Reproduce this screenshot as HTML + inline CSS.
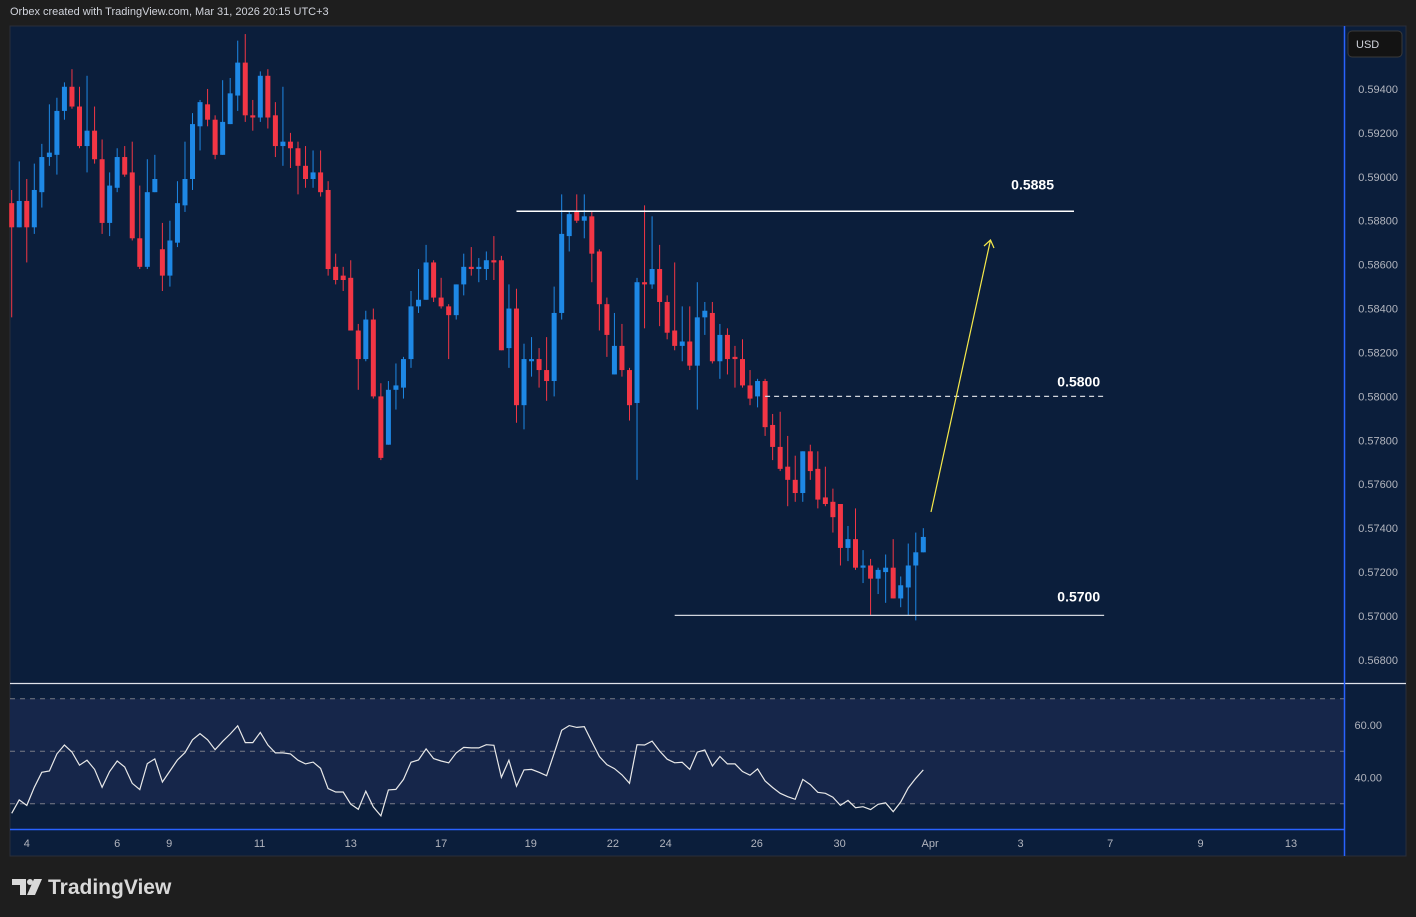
<!DOCTYPE html>
<html><head><meta charset="utf-8">
<style>
body{margin:0;width:1416px;height:917px;background:#1e1e1e;overflow:hidden;font-family:"Liberation Sans",sans-serif;}
#hdr{position:absolute;left:10px;top:6px;font-size:11px;color:#d1d4dc;}
svg{position:absolute;left:0;top:0;}
</style></head>
<body>
<div id="hdr">Orbex created with TradingView.com, Mar 31, 2026 20:15 UTC+3</div>
<svg id="chart" width="1416" height="917"></svg>
<script>
const opens=[0.5888,0.5877,0.5889,0.5877,0.5893,0.5909,0.5910,0.5930,0.5941,0.5932,0.5914,0.5921,0.5908,0.5879,0.5895,0.5909,0.5902,0.5872,0.5859,0.5893,0.5867,0.5855,0.5870,0.5887,0.5899,0.5923,0.5933,0.5926,0.5910,0.5924,0.5937,0.5952,0.5928,0.5927,0.5946,0.5928,0.5914,0.5916,0.5913,0.5905,0.5899,0.5902,0.5894,0.5859,0.5855,0.5854,0.5830,0.5817,0.5835,0.5800,0.5778,0.5803,0.5804,0.5817,0.5841,0.5844,0.5861,0.5845,0.5841,0.5837,0.5851,0.5859,0.5858,0.5858,0.5862,0.5862,0.5822,0.5840,0.5796,0.5816,0.5817,0.5812,0.5807,0.5838,0.5873,0.5884,0.5880,0.5882,0.5866,0.5842,0.5810,0.5823,0.5812,0.5797,0.5852,0.5851,0.5858,0.5843,0.5830,0.5823,0.5825,0.5814,0.5836,0.5838,0.5816,0.5828,0.5818,0.5817,0.5805,0.5800,0.5807,0.5787,0.5777,0.5768,0.5762,0.5756,0.5775,0.5767,0.5754,0.5752,0.5751,0.5731,0.5735,0.5722,0.5723,0.5717,0.5720,0.5722,0.5708,0.5713,0.5723,0.5729];
const closes=[0.5877,0.5889,0.5877,0.5894,0.5909,0.5911,0.5930,0.5941,0.5932,0.5914,0.5921,0.5908,0.5879,0.5896,0.5909,0.5901,0.5872,0.5859,0.5893,0.5899,0.5855,0.5871,0.5888,0.5899,0.5924,0.5934,0.5926,0.5910,0.5925,0.5938,0.5952,0.5928,0.5927,0.5946,0.5927,0.5914,0.5916,0.5913,0.5905,0.5899,0.5902,0.5893,0.5858,0.5853,0.5853,0.5830,0.5817,0.5835,0.5800,0.5772,0.5803,0.5805,0.5817,0.5841,0.5844,0.5861,0.5845,0.5841,0.5837,0.5851,0.5859,0.5858,0.5859,0.5862,0.5861,0.5821,0.5840,0.5796,0.5817,0.5817,0.5812,0.5807,0.5838,0.5874,0.5883,0.5880,0.5882,0.5865,0.5842,0.5828,0.5823,0.5812,0.5796,0.5852,0.5851,0.5858,0.5843,0.5829,0.5823,0.5825,0.5814,0.5836,0.5839,0.5816,0.5828,0.5817,0.5817,0.5805,0.5799,0.5807,0.5786,0.5777,0.5767,0.5762,0.5756,0.5775,0.5766,0.5753,0.5751,0.5745,0.5731,0.5735,0.5722,0.5723,0.5717,0.5721,0.5722,0.5708,0.5714,0.5723,0.5729,0.5736];
const highs=[0.5894,0.5907,0.5899,0.5906,0.5915,0.5933,0.5936,0.5943,0.5949,0.5941,0.5946,0.5932,0.5917,0.5902,0.5913,0.5914,0.5916,0.5896,0.5908,0.5910,0.5879,0.5880,0.5898,0.5916,0.5929,0.5935,0.5940,0.5928,0.5944,0.5945,0.5962,0.5965,0.5935,0.5948,0.5949,0.5934,0.5941,0.5920,0.5916,0.5914,0.5912,0.5912,0.5898,0.5865,0.5859,0.5862,0.5833,0.5839,0.5840,0.5806,0.5807,0.5815,0.5818,0.5848,0.5858,0.5869,0.5862,0.5854,0.5842,0.5851,0.5865,0.5868,0.5863,0.5866,0.5873,0.5864,0.5851,0.5849,0.5824,0.5827,0.5822,0.5827,0.5850,0.5892,0.5884,0.5892,0.5892,0.5884,0.5867,0.5845,0.5838,0.5833,0.5813,0.5854,0.5887,0.5882,0.5869,0.5846,0.5861,0.5841,0.5841,0.5852,0.5843,0.5843,0.5833,0.5831,0.5823,0.5826,0.5812,0.5808,0.5808,0.5792,0.5793,0.5782,0.5773,0.5775,0.5778,0.5775,0.5768,0.5758,0.5751,0.5741,0.5749,0.5730,0.5726,0.5722,0.5728,0.5735,0.5718,0.5733,0.5738,0.5740];
const lows=[0.5836,0.5877,0.5861,0.5874,0.5886,0.5905,0.5901,0.5926,0.5931,0.5913,0.5902,0.5906,0.5874,0.5873,0.5893,0.5900,0.5871,0.5858,0.5858,0.5893,0.5848,0.5850,0.5868,0.5884,0.5894,0.5912,0.5923,0.5908,0.5910,0.5924,0.5930,0.5925,0.5921,0.5925,0.5922,0.5909,0.5905,0.5904,0.5892,0.5895,0.5895,0.5891,0.5855,0.5851,0.5848,0.5830,0.5803,0.5816,0.5799,0.5771,0.5778,0.5794,0.5799,0.5813,0.5838,0.5844,0.5843,0.5840,0.5817,0.5835,0.5846,0.5855,0.5852,0.5853,0.5853,0.5821,0.5813,0.5788,0.5785,0.5809,0.5804,0.5798,0.5800,0.5835,0.5866,0.5879,0.5872,0.5852,0.5830,0.5818,0.5810,0.5809,0.5789,0.5762,0.5831,0.5849,0.5832,0.5826,0.5821,0.5816,0.5812,0.5794,0.5828,0.5815,0.5808,0.5810,0.5804,0.5804,0.5796,0.5795,0.5782,0.5771,0.5766,0.5750,0.5752,0.5752,0.5762,0.5749,0.5750,0.5738,0.5723,0.5725,0.5721,0.5715,0.5700,0.5710,0.5706,0.5708,0.5704,0.5700,0.5698,0.5729];
const rsi=[26.4,31.5,29.4,36.3,42.0,42.5,49.0,52.4,49.7,44.7,46.6,43.1,36.3,42.3,46.3,44.0,37.8,35.4,45.3,47.1,38.3,42.5,46.7,49.5,54.4,56.7,54.4,50.6,53.8,56.6,59.7,53.3,53.3,57.2,52.4,49.4,49.4,49.0,46.6,45.2,45.9,43.5,35.8,34.5,34.5,29.9,27.9,34.8,28.8,25.4,35.3,35.5,39.3,45.8,46.7,50.9,47.2,46.3,45.6,49.4,51.5,51.3,51.3,52.5,52.3,40.1,46.6,36.7,42.9,43.1,42.0,40.7,49.2,58.0,59.8,59.1,59.4,53.7,48.0,44.9,43.4,41.0,37.8,52.5,52.4,53.9,50.1,47.0,45.6,45.8,43.1,49.7,50.5,44.4,48.0,45.2,45.2,42.3,40.9,43.3,38.7,36.2,34.0,32.7,31.7,39.3,37.3,34.4,34.0,32.5,29.4,31.3,28.5,28.9,27.8,29.8,30.4,27.0,30.7,36.0,39.7,42.9];
const priceTicks=[0.594,0.592,0.590,0.588,0.586,0.584,0.582,0.580,0.578,0.576,0.574,0.572,0.570,0.568];
const rsiTicks=[60,40];
const rsiBands=[70,50,30];
const dateLabels=["4","6","9","11","13","17","19","22","24","26","30","Apr","3","7","9","13"];
const dateIdx=[2,14,20.9,32.9,45,57,68.9,79.8,86.8,98.9,109.9,121.9,133.9,145.8,157.8,169.8];
const levels=[0.58843,0.5800,0.57003];
const levelLabels=["0.5885","0.5800","0.5700"];
const levelStart=[67,100,88];
const levelEnd=[141,145,145];

const X=i=>11.7+7.534*i;
const Y=p=>616-(p-0.57)/0.002*43.92;
const RY=v=>751.3-(v-50)*2.625;
const svg=document.getElementById('chart');
const NS='http://www.w3.org/2000/svg';
function mk(tag,at,parent){const e=document.createElementNS(NS,tag);for(const k in at)e.setAttribute(k,at[k]);(parent||svg).appendChild(e);return e;}
const labDX=[-20,-4,-4];
const labDY=[-22,-10,-14];

let e;
e=mk('rect',{x:10,y:26,width:1396,height:830,fill:'#0b1e3b',stroke:'#2a2e39'});


e=mk('rect',{x:10,y:RY(70),width:1334,height:RY(30)-RY(70),fill:'#16264a'});


rsiBands.forEach(v=>{
  e=mk('line',{x1:10,x2:1344,y1:RY(v),y2:RY(v),stroke:'#787b86','stroke-dasharray':'5,5','stroke-width':1});
  
  
});
e=mk('line',{x1:10,x2:1406,y1:683.5,y2:683.5,stroke:'#e0e3eb','stroke-width':1.2});


e=mk('line',{x1:10,x2:1344,y1:829.5,y2:829.5,stroke:'#2962ff','stroke-width':1.5});


e=mk('line',{x1:1344.5,x2:1344.5,y1:26,y2:856,stroke:'#2962ff','stroke-width':1.5});



for(let i=0;i<opens.length;i++){
  const up=closes[i]>=opens[i];const c=up?'#1e88e5':'#f23645';const x=X(i);
  const g=mk('g',{});
  
  
  mk('line',{x1:x,x2:x,y1:Y(highs[i]),y2:Y(lows[i]),stroke:c,'stroke-width':1},g);
  const t=Y(Math.max(opens[i],closes[i])),b=Y(Math.min(opens[i],closes[i]));
  mk('rect',{x:x-2.5,y:t,width:5,height:Math.max(1.5,b-t),fill:c},g);
}
let d='';rsi.forEach((v,i)=>{d+=(i?'L':'M')+X(i).toFixed(1)+','+RY(v).toFixed(1);});
e=mk('path',{d:d,fill:'none',stroke:'#e8e8e8','stroke-width':1.2});



levels.forEach((p,k)=>{
  e=mk('line',{x1:X(levelStart[k]),x2:X(levelEnd[k]),y1:Y(p),y2:Y(p),stroke:k==0?'#ffffff':'#d1d4dc','stroke-width':k==0?1.5:1.2,'stroke-dasharray':k==1?'5,4':'none'});
  
  
  e=mk('text',{x:X(levelEnd[k])+labDX[k],y:Y(p)+labDY[k],'text-anchor':'end',fill:'#ffffff','font-size':14,'font-weight':'bold','font-family':'Liberation Sans, sans-serif'});
  e.textContent=levelLabels[k];
  
  
});
e=mk('g',{});


mk('line',{x1:931,y1:512,x2:990.5,y2:240,stroke:'#f5e94a','stroke-width':1.2},e);
mk('path',{d:'M984,246 L990.5,240 L994,248',fill:'none',stroke:'#f5e94a','stroke-width':1.2},e);

priceTicks.forEach(p=>{
  e=mk('text',{x:1398,y:Y(p)+4,'text-anchor':'end',fill:'#b2b5be','font-size':11,'font-family':'Liberation Sans, sans-serif'});
  e.textContent=p.toFixed(5);
  
  
});
rsiTicks.forEach(v=>{
  e=mk('text',{x:1382,y:RY(v)+4,'text-anchor':'end',fill:'#b2b5be','font-size':11,'font-family':'Liberation Sans, sans-serif'});
  e.textContent=v.toFixed(2);
  
  
});
dateLabels.forEach((s,k)=>{
  e=mk('text',{x:X(dateIdx[k]),y:847,'text-anchor':'middle',fill:'#b2b5be','font-size':11,'font-family':'Liberation Sans, sans-serif'});
  e.textContent=s;
  
  
});
e=mk('g',{});


mk('rect',{x:1348,y:31,width:54,height:26,rx:4,fill:'#131313',stroke:'#3a3a3a'},e);
const tt=mk('text',{x:1356,y:48,fill:'#d1d4dc','font-size':11,'font-family':'Liberation Sans, sans-serif'},e);tt.textContent='USD';
e=mk('g',{});


mk('path',{d:'M12,879 h14 v16 h-6 v-10 h-8 z',fill:'#d9d9d9'},e);
mk('circle',{cx:30,cy:882,r:3,fill:'#d9d9d9'},e);
mk('path',{d:'M34,879 h8 l-7,16 h-8 z',fill:'#d9d9d9'},e);
const lt=mk('text',{x:48,y:894,fill:'#d9d9d9','font-size':21,'font-weight':'bold','font-family':'Liberation Sans, sans-serif'},e);lt.textContent='TradingView';
</script>
</body></html>
